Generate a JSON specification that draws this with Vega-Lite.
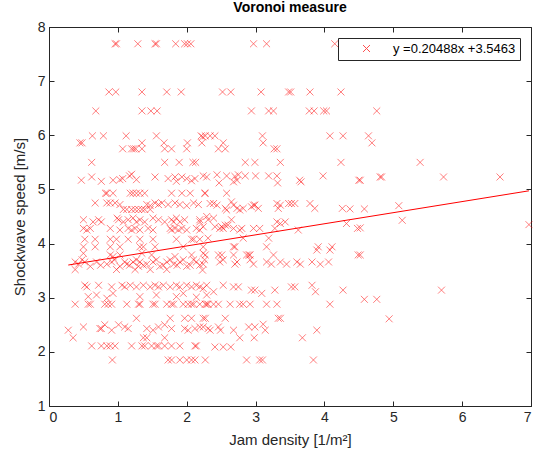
{
  "$schema": "https://vega.github.io/schema/vega-lite/v6.json",
  "width": 482,
  "height": 379,
  "autosize": {"type": "none"},
  "padding": {"left": 49, "top": 27, "right": 7, "bottom": 60},
  "title": {"text": "Voronoi measure", "font": "Liberation Sans", "fontSize": 14, "fontWeight": "bold", "color": "#000000", "offset": 5},
  "config": {
    "view": {"stroke": "#262626", "strokeWidth": 1},
    "axis": {
      "grid": false,
      "domainColor": "#262626",
      "tickColor": "#262626",
      "labelColor": "#262626",
      "titleColor": "#262626",
      "labelFont": "Liberation Sans",
      "titleFont": "Liberation Sans",
      "labelFontSize": 14,
      "titleFontSize": 15,
      "titleFontWeight": "normal",
      "tickSize": -5,
      "labelPadding": 9
    }
  },
  "datasets": {
    "obs": [
      {"x":0.96,"y":7.69},{"x":0.98,"y":7.69},{"x":1.29,"y":7.69},{"x":1.54,"y":7.69},{"x":1.56,"y":7.69},{"x":1.84,"y":7.69},{"x":1.97,"y":7.69},{"x":2.01,"y":7.69},{"x":2.06,"y":7.69},{"x":2.97,"y":7.69},{"x":3.16,"y":7.69},{"x":4.15,"y":7.69},
      {"x":0.87,"y":6.8},{"x":0.97,"y":6.8},{"x":1.35,"y":6.8},{"x":1.71,"y":6.8},{"x":1.92,"y":6.8},{"x":2.52,"y":6.8},{"x":2.64,"y":6.8},{"x":3.08,"y":6.8},{"x":3.48,"y":6.8},{"x":3.51,"y":6.8},{"x":3.79,"y":6.8},{"x":4.24,"y":6.8},
      {"x":0.68,"y":6.45},{"x":1.35,"y":6.45},{"x":1.48,"y":6.45},{"x":1.57,"y":6.45},{"x":2.94,"y":6.45},{"x":3.19,"y":6.45},{"x":3.26,"y":6.45},{"x":3.78,"y":6.45},{"x":3.85,"y":6.45},{"x":3.99,"y":6.45},{"x":4.03,"y":6.45},{"x":4.76,"y":6.45},
      {"x":0.63,"y":5.99},{"x":0.79,"y":5.99},{"x":1.12,"y":5.99},{"x":1.56,"y":5.99},{"x":2.21,"y":5.99},{"x":2.23,"y":5.97},{"x":2.27,"y":5.99},{"x":2.34,"y":5.99},{"x":2.41,"y":5.99},{"x":3.1,"y":5.99},{"x":4.08,"y":5.99},{"x":4.27,"y":5.99},{"x":4.64,"y":5.99},
      {"x":0.45,"y":5.86},{"x":0.48,"y":5.86},{"x":1.35,"y":5.86},{"x":1.67,"y":5.86},{"x":2.01,"y":5.86},{"x":2.22,"y":5.86},{"x":2.53,"y":5.86},{"x":3.11,"y":5.86},{"x":4.69,"y":5.86},
      {"x":1.07,"y":5.75},{"x":1.2,"y":5.75},{"x":1.23,"y":5.75},{"x":1.26,"y":5.75},{"x":1.35,"y":5.75},{"x":1.68,"y":5.75},{"x":1.78,"y":5.75},{"x":2.0,"y":5.75},{"x":2.46,"y":5.75},{"x":2.56,"y":5.75},{"x":3.27,"y":5.75},{"x":3.31,"y":5.75},
      {"x":0.62,"y":5.5},{"x":1.68,"y":5.5},{"x":1.89,"y":5.5},{"x":2.09,"y":5.5},{"x":2.13,"y":5.5},{"x":2.85,"y":5.5},{"x":2.99,"y":5.5},{"x":3.36,"y":5.5},{"x":4.24,"y":5.5},{"x":5.39,"y":5.5},
      {"x":0.47,"y":5.17},{"x":0.62,"y":5.23},{"x":0.76,"y":5.15},{"x":0.93,"y":5.17},{"x":1.03,"y":5.18},{"x":1.07,"y":5.2},{"x":1.17,"y":5.25},{"x":1.2,"y":5.28},{"x":1.27,"y":5.18},{"x":1.54,"y":5.23},{"x":1.73,"y":5.2},{"x":1.83,"y":5.23},{"x":1.85,"y":5.15},{"x":1.93,"y":5.23},{"x":2.0,"y":5.2},{"x":2.07,"y":5.16},{"x":2.12,"y":5.2},{"x":2.29,"y":5.23},
      {"x":2.24,"y":5.25},{"x":2.44,"y":5.27},{"x":2.47,"y":5.12},{"x":2.58,"y":5.25},{"x":2.68,"y":5.14},{"x":2.7,"y":5.24},{"x":2.73,"y":5.17},{"x":2.75,"y":5.27},{"x":2.85,"y":5.25},{"x":3.0,"y":5.25},{"x":3.19,"y":5.25},{"x":3.31,"y":5.25},{"x":3.32,"y":5.12},{"x":3.64,"y":5.17},{"x":3.66,"y":5.14},{"x":3.98,"y":5.25},{"x":4.5,"y":5.17},{"x":4.52,"y":5.17},{"x":4.81,"y":5.23},{"x":4.83,"y":5.23},{"x":5.73,"y":5.23},{"x":6.55,"y":5.23},
      {"x":0.82,"y":4.93},{"x":0.84,"y":4.93},{"x":0.93,"y":4.93},{"x":1.18,"y":4.93},{"x":1.22,"y":4.93},{"x":1.27,"y":4.93},{"x":1.32,"y":4.93},{"x":1.39,"y":4.93},{"x":1.78,"y":4.93},{"x":1.93,"y":4.93},{"x":2.05,"y":4.93},{"x":2.26,"y":4.93},{"x":2.27,"y":4.93},{"x":2.58,"y":4.93},
      {"x":0.67,"y":4.75},{"x":0.84,"y":4.75},{"x":0.89,"y":4.75},{"x":0.96,"y":4.75},{"x":1.03,"y":4.72},{"x":1.42,"y":4.72},{"x":1.47,"y":4.7},{"x":1.54,"y":4.75},{"x":1.59,"y":4.72},{"x":1.64,"y":4.75},{"x":1.73,"y":4.72},{"x":1.83,"y":4.75},{"x":1.9,"y":4.72},{"x":2.0,"y":4.7},{"x":2.1,"y":4.75},{"x":2.17,"y":4.72},
      {"x":1.08,"y":4.63},{"x":1.13,"y":4.63},{"x":1.2,"y":4.63},{"x":1.25,"y":4.63},{"x":1.3,"y":4.63},{"x":1.35,"y":4.63},{"x":1.39,"y":4.63},{"x":1.47,"y":4.63},
      {"x":2.34,"y":4.74},{"x":2.39,"y":4.74},{"x":2.44,"y":4.71},{"x":2.56,"y":4.65},{"x":2.58,"y":4.62},{"x":2.65,"y":4.77},{"x":2.68,"y":4.71},{"x":2.73,"y":4.65},{"x":2.77,"y":4.62},{"x":2.82,"y":4.65},{"x":2.94,"y":4.68},{"x":2.97,"y":4.71},{"x":2.99,"y":4.71},{"x":3.04,"y":4.65},{"x":3.31,"y":4.74},{"x":3.33,"y":4.65},{"x":3.36,"y":4.71},{"x":3.48,"y":4.74},{"x":3.52,"y":4.74},{"x":3.57,"y":4.74},{"x":3.79,"y":4.74},{"x":3.86,"y":4.65},{"x":4.26,"y":4.65},{"x":4.37,"y":4.64},{"x":4.58,"y":4.64},{"x":5.08,"y":4.7},
      {"x":0.5,"y":4.44},{"x":0.64,"y":4.4},{"x":0.72,"y":4.44},{"x":0.76,"y":4.4},{"x":0.99,"y":4.47},{"x":1.01,"y":4.44},{"x":1.08,"y":4.4},{"x":1.15,"y":4.44},{"x":1.22,"y":4.47},{"x":1.27,"y":4.4},{"x":1.32,"y":4.44},{"x":1.39,"y":4.4},{"x":1.51,"y":4.47},{"x":1.59,"y":4.44},{"x":1.68,"y":4.4},{"x":1.78,"y":4.44},{"x":1.81,"y":4.4},{"x":1.85,"y":4.47},{"x":1.9,"y":4.4},{"x":1.97,"y":4.44},{"x":2.19,"y":4.4},{"x":2.31,"y":4.44},
      {"x":0.5,"y":4.28},{"x":0.55,"y":4.25},{"x":0.6,"y":4.28},{"x":0.89,"y":4.28},{"x":1.03,"y":4.25},{"x":1.15,"y":4.28},{"x":1.2,"y":4.25},{"x":1.25,"y":4.28},{"x":1.32,"y":4.25},{"x":1.44,"y":4.28},{"x":1.51,"y":4.25},{"x":1.76,"y":4.28},{"x":1.78,"y":4.25},{"x":1.83,"y":4.28},{"x":1.88,"y":4.25},{"x":1.93,"y":4.28},{"x":2.0,"y":4.25},{"x":2.14,"y":4.28},{"x":2.19,"y":4.25},
      {"x":2.19,"y":4.44},{"x":2.24,"y":4.31},{"x":2.29,"y":4.5},{"x":2.39,"y":4.47},{"x":2.41,"y":4.31},{"x":2.48,"y":4.28},{"x":2.51,"y":4.31},{"x":2.53,"y":4.28},{"x":2.56,"y":4.34},{"x":2.6,"y":4.34},{"x":2.65,"y":4.44},{"x":2.68,"y":4.28},{"x":2.77,"y":4.25},{"x":2.8,"y":4.28},{"x":2.97,"y":4.28},{"x":3.06,"y":4.28},{"x":3.28,"y":4.28},{"x":3.31,"y":4.4},{"x":3.36,"y":4.37},{"x":3.43,"y":4.4},{"x":3.62,"y":4.25},{"x":4.32,"y":4.37},{"x":4.48,"y":4.28},{"x":4.52,"y":4.29},{"x":5.13,"y":4.43},{"x":6.97,"y":4.35},
      {"x":0.52,"y":4.08},{"x":0.67,"y":4.08},{"x":0.89,"y":4.08},{"x":0.98,"y":4.08},{"x":1.15,"y":4.08},{"x":1.32,"y":4.08},{"x":1.51,"y":4.08},{"x":1.85,"y":4.08},{"x":2.07,"y":4.08},{"x":2.1,"y":4.08},{"x":2.19,"y":4.08},{"x":2.31,"y":4.1},{"x":2.82,"y":4.1},{"x":3.19,"y":4.1},
      {"x":0.5,"y":3.94},{"x":0.67,"y":3.94},{"x":0.89,"y":3.94},{"x":1.03,"y":3.94},{"x":1.32,"y":3.94},{"x":1.37,"y":3.94},{"x":1.54,"y":3.94},{"x":1.95,"y":3.94},{"x":2.24,"y":3.94},{"x":2.68,"y":3.94},{"x":2.7,"y":3.94},{"x":3.16,"y":3.94},{"x":3.91,"y":3.94},{"x":4.11,"y":3.94},{"x":3.89,"y":3.88},{"x":4.08,"y":3.88},
      {"x":0.5,"y":3.82},{"x":0.89,"y":3.79},{"x":0.93,"y":3.76},{"x":1.03,"y":3.79},{"x":1.35,"y":3.82},{"x":1.49,"y":3.79},{"x":1.83,"y":3.76},{"x":2.07,"y":3.79},{"x":2.24,"y":3.82},{"x":2.27,"y":3.79},{"x":2.46,"y":3.79},{"x":2.51,"y":3.79},{"x":2.68,"y":3.79},{"x":2.87,"y":3.79},{"x":2.9,"y":3.79},{"x":2.92,"y":3.79},{"x":3.26,"y":3.79},{"x":4.49,"y":3.79},{"x":4.52,"y":3.79},
      {"x":0.38,"y":3.66},{"x":0.43,"y":3.62},{"x":0.52,"y":3.66},{"x":0.6,"y":3.58},{"x":0.69,"y":3.66},{"x":0.84,"y":3.62},{"x":0.91,"y":3.66},{"x":1.03,"y":3.58},{"x":1.1,"y":3.66},{"x":1.13,"y":3.62},{"x":1.22,"y":3.66},{"x":1.3,"y":3.58},{"x":1.32,"y":3.66},{"x":1.42,"y":3.62},{"x":1.51,"y":3.66},{"x":1.61,"y":3.58},{"x":1.71,"y":3.66},{"x":1.81,"y":3.62},{"x":1.9,"y":3.66},{"x":2.0,"y":3.58},{"x":2.14,"y":3.66},{"x":2.24,"y":3.62},
      {"x":0.48,"y":3.7},{"x":0.75,"y":3.6},{"x":0.95,"y":3.7},{"x":1.17,"y":3.6},{"x":1.27,"y":3.7},{"x":1.37,"y":3.6},{"x":1.56,"y":3.7},{"x":1.66,"y":3.6},{"x":1.76,"y":3.7},{"x":1.86,"y":3.6},{"x":1.95,"y":3.7},{"x":2.05,"y":3.6},{"x":2.1,"y":3.7},{"x":2.19,"y":3.6},
      {"x":2.26,"y":3.7},{"x":2.48,"y":3.66},{"x":2.53,"y":3.7},{"x":2.7,"y":3.62},{"x":2.73,"y":3.66},{"x":2.92,"y":3.7},{"x":2.97,"y":3.62},{"x":3.16,"y":3.66},{"x":3.23,"y":3.62},{"x":3.36,"y":3.66},{"x":3.45,"y":3.62},{"x":3.6,"y":3.66},{"x":3.65,"y":3.62},{"x":3.82,"y":3.66},{"x":3.94,"y":3.62},{"x":4.06,"y":3.66},
      {"x":0.38,"y":3.52},{"x":0.98,"y":3.52},{"x":1.25,"y":3.52},{"x":1.47,"y":3.52},{"x":1.71,"y":3.52},{"x":2.23,"y":3.51},
      {"x":0.52,"y":3.23},{"x":0.55,"y":3.2},{"x":0.72,"y":3.23},{"x":0.91,"y":3.2},{"x":1.06,"y":3.23},{"x":1.1,"y":3.2},{"x":1.18,"y":3.23},{"x":1.27,"y":3.2},{"x":1.37,"y":3.23},{"x":1.47,"y":3.2},{"x":1.54,"y":3.23},{"x":1.59,"y":3.2},{"x":1.66,"y":3.23},{"x":1.76,"y":3.2},{"x":1.85,"y":3.23},{"x":1.9,"y":3.2},{"x":2.0,"y":3.23},{"x":2.07,"y":3.2},{"x":2.14,"y":3.23},{"x":2.19,"y":3.2},{"x":2.29,"y":3.23},
      {"x":2.24,"y":3.17},{"x":2.39,"y":3.11},{"x":2.53,"y":3.23},{"x":2.68,"y":3.2},{"x":2.75,"y":3.2},{"x":2.94,"y":3.14},{"x":2.99,"y":3.14},{"x":3.09,"y":3.08},{"x":3.28,"y":3.14},{"x":3.52,"y":3.2},{"x":3.57,"y":3.2},{"x":3.82,"y":3.23},{"x":3.87,"y":3.11},{"x":4.27,"y":3.14},{"x":5.7,"y":3.14},
      {"x":0.57,"y":3.02},{"x":0.69,"y":3.05},{"x":0.84,"y":2.99},{"x":0.93,"y":3.08},{"x":1.32,"y":3.02},{"x":1.56,"y":3.05},{"x":1.85,"y":3.02},{"x":1.95,"y":3.08},{"x":2.14,"y":3.01},{"x":2.29,"y":3.05},
      {"x":0.38,"y":2.88},{"x":0.57,"y":2.88},{"x":0.6,"y":2.88},{"x":0.81,"y":2.88},{"x":0.86,"y":2.88},{"x":0.91,"y":2.88},{"x":1.13,"y":2.88},{"x":1.3,"y":2.88},{"x":1.32,"y":2.88},{"x":1.51,"y":2.88},{"x":1.54,"y":2.88},{"x":1.71,"y":2.88},{"x":1.78,"y":2.88},{"x":1.81,"y":2.88},{"x":1.95,"y":2.88},{"x":2.02,"y":2.88},{"x":2.07,"y":2.88},{"x":2.1,"y":2.88},{"x":2.19,"y":2.88},{"x":2.29,"y":2.88},
      {"x":2.27,"y":2.88},{"x":2.31,"y":2.88},{"x":2.39,"y":2.88},{"x":2.46,"y":2.88},{"x":2.63,"y":2.88},{"x":2.77,"y":2.88},{"x":2.82,"y":2.88},{"x":2.92,"y":2.88},{"x":3.16,"y":2.88},{"x":3.31,"y":2.88},{"x":4.08,"y":2.88},{"x":4.58,"y":2.97},{"x":4.76,"y":2.97},
      {"x":1.27,"y":2.62},{"x":1.76,"y":2.62},{"x":1.97,"y":2.62},{"x":2.07,"y":2.62},{"x":2.24,"y":2.62},{"x":2.27,"y":2.62},{"x":2.56,"y":2.62},{"x":3.33,"y":2.62},{"x":3.36,"y":2.62},{"x":4.94,"y":2.61},
      {"x":0.28,"y":2.4},{"x":0.5,"y":2.46},{"x":0.74,"y":2.43},{"x":0.76,"y":2.43},{"x":0.81,"y":2.5},{"x":0.91,"y":2.4},{"x":1.01,"y":2.5},{"x":1.1,"y":2.46},{"x":1.15,"y":2.43},{"x":1.42,"y":2.43},{"x":1.51,"y":2.4},{"x":1.59,"y":2.46},{"x":1.68,"y":2.5},{"x":1.78,"y":2.43},{"x":1.97,"y":2.43},{"x":2.02,"y":2.4},{"x":2.12,"y":2.43},{"x":2.24,"y":2.46},{"x":2.31,"y":2.43},
      {"x":2.19,"y":2.46},{"x":2.34,"y":2.4},{"x":2.46,"y":2.46},{"x":2.49,"y":2.4},{"x":2.68,"y":2.4},{"x":2.9,"y":2.46},{"x":2.99,"y":2.46},{"x":3.11,"y":2.51},{"x":3.14,"y":2.4},{"x":3.89,"y":2.4},
      {"x":0.35,"y":2.26},{"x":1.37,"y":2.26},{"x":1.42,"y":2.26},{"x":1.68,"y":2.26},{"x":2.77,"y":2.26},{"x":2.98,"y":2.26},{"x":3.68,"y":2.26},
      {"x":0.62,"y":2.11},{"x":0.76,"y":2.11},{"x":0.84,"y":2.11},{"x":0.89,"y":2.11},{"x":0.96,"y":2.11},{"x":1.2,"y":2.11},{"x":1.35,"y":2.11},{"x":1.39,"y":2.11},{"x":1.49,"y":2.11},{"x":1.56,"y":2.11},{"x":1.59,"y":2.11},{"x":1.68,"y":2.11},{"x":1.78,"y":2.11},{"x":1.9,"y":2.11},{"x":2.12,"y":2.11},{"x":2.14,"y":2.11},{"x":2.41,"y":2.09},{"x":2.53,"y":2.09},{"x":2.64,"y":2.09},
      {"x":0.92,"y":1.85},{"x":1.73,"y":1.85},{"x":1.78,"y":1.85},{"x":1.9,"y":1.85},{"x":2.0,"y":1.85},{"x":2.07,"y":1.85},{"x":2.12,"y":1.85},{"x":2.27,"y":1.85},{"x":2.87,"y":1.85},{"x":3.06,"y":1.85},{"x":3.1,"y":1.85},{"x":3.84,"y":1.85}
    ],
    "fit": [
      {"x": 0.28, "y": 3.6037},
      {"x": 6.97, "y": 4.9743}
    ]
  },
  "layer": [
    {
      "data": {"name": "obs"},
      "mark": {"type": "point", "shape": "M-1,-1L1,1M-1,1L1,-1", "filled": false, "strokeWidth": 1, "size": 48, "strokeOpacity": 0.72},
      "encoding": {
        "x": {"field": "x", "type": "quantitative", "scale": {"domain": [0, 7], "nice": false, "zero": false},
              "axis": {"title": "Jam density [1/m²]", "values": [0, 1, 2, 3, 4, 5, 6, 7], "titlePadding": 8}},
        "y": {"field": "y", "type": "quantitative", "scale": {"domain": [1, 8], "nice": false, "zero": false},
              "axis": {"title": "Shockwave speed [m/s]", "values": [1, 2, 3, 4, 5, 6, 7, 8], "titlePadding": 10}},
        "color": {
          "datum": "y =0.20488x +3.5463",
          "type": "nominal",
          "scale": {"range": ["#ff0000"]},
          "legend": {
            "title": null,
            "orient": "top-right",
            "offset": 11,
            "fillColor": "#ffffff",
            "strokeColor": "#262626",
            "padding": 4,
            "symbolType": "M-1,-1L1,1M-1,1L1,-1",
            "symbolSize": 48,
            "symbolStrokeWidth": 1,
            "symbolOffset": 18,
            "labelOffset": 20,
            "labelFont": "Liberation Sans",
            "labelFontSize": 13,
            "labelColor": "#000000"
          }
        }
      }
    },
    {
      "data": {"name": "fit"},
      "mark": {"type": "line", "color": "#ff0000", "strokeWidth": 1},
      "encoding": {
        "x": {"field": "x", "type": "quantitative", "axis": {"orient": "top", "values": [0, 1, 2, 3, 4, 5, 6, 7], "labels": false, "title": null, "domain": false}},
        "y": {"field": "y", "type": "quantitative", "axis": {"orient": "right", "values": [1, 2, 3, 4, 5, 6, 7, 8], "labels": false, "title": null, "domain": false}}
      }
    }
  ],
  "resolve": {"axis": {"x": "independent", "y": "independent"}}
}
